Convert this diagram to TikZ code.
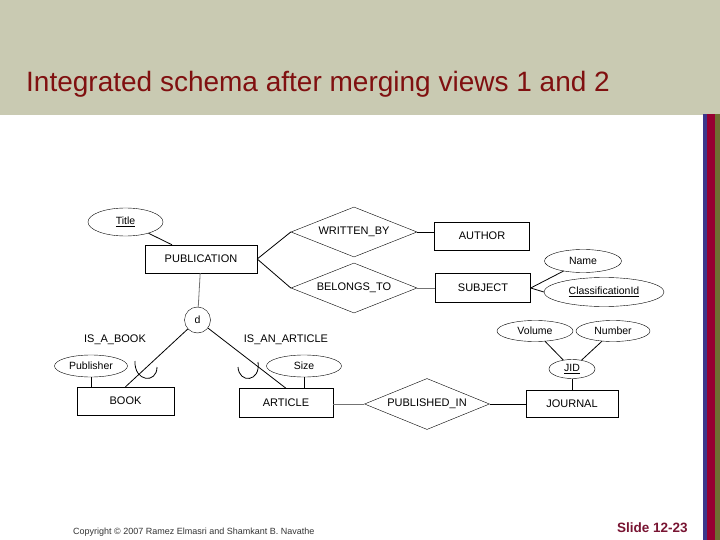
\documentclass[tikz,border=0pt]{standalone}
\usepackage{fontspec}
\setmainfont{Liberation Sans}
\usetikzlibrary{shapes.geometric}

\definecolor{headbg}{RGB}{201,202,178}
\definecolor{titlered}{RGB}{128,16,16}
\definecolor{slidered}{RGB}{120,20,50}
\definecolor{barblue}{RGB}{60,55,140}
\definecolor{barred}{RGB}{150,0,50}
\definecolor{barolive}{RGB}{110,110,50}

\tikzset{
  entity/.style={draw, rectangle, inner sep=0pt, minimum width=95pt, minimum height=28pt, font=\fontsize{11}{13}\selectfont},
  attr/.style={draw, ellipse, inner sep=0pt, minimum width=75pt, minimum height=22pt, font=\fontsize{10.5}{12}\selectfont},
  rel/.style={draw, diamond, aspect=2.5, inner sep=0pt, minimum width=126pt, minimum height=50pt, font=\fontsize{11}{13}\selectfont},
  link/.style={line width=0.8pt},
  dimlink/.style={line width=0.8pt, black!55}
}

\begin{document}
\begin{tikzpicture}[x=1pt,y=-1pt]
\useasboundingbox (0,0) rectangle (720,540);
% slide frame
\fill[headbg] (0,0) rectangle (720,115);
\fill[barblue] (703,114) rectangle (707,540);
\fill[barred] (707,114) rectangle (715,540);
\fill[barolive] (715,114) rectangle (720,540);
\node[anchor=base west, inner sep=0pt, text=titlered, font=\fontsize{28}{32}\selectfont] (heading) at (26,92) {Integrated schema after merging views 1 and 2};

% entities
\node[entity, minimum width=112pt] (pub) at (201,259) {PUBLICATION};
\node[entity] (author) at (482,236) {AUTHOR};
\node[entity, minimum height=29pt] (subject) at (483,288) {SUBJECT};
\node[entity, minimum width=97pt] (book) at (125.5,401) {BOOK};
\node[entity, minimum width=94pt, minimum height=29pt] (article) at (286,403) {ARTICLE};
\node[entity, minimum width=92pt, minimum height=27pt] (journal) at (572,404) {JOURNAL};

% relationships
\node[rel] (written) at (354,232) {WRITTEN\_BY};
\node[rel] (belongs) at (354,288) {BELONGS\_TO};
\node[rel, minimum width=125pt, minimum height=51pt] (published) at (427,404) {PUBLISHED\_IN};

% attributes
\node[attr, minimum height=28pt] (title) at (125.5,222) {\underline{Title}};
\node[attr, minimum width=77pt, minimum height=23pt] (name) at (583,261) {Name};
\node[attr, minimum width=120pt, minimum height=29pt] (classid) at (604,292) {\underline{ClassificationId}};
\node[attr, minimum width=73pt] (publisher) at (91,366) {Publisher};
\node[attr] (size) at (304,366) {Size};
\node[attr, minimum width=76pt, minimum height=21pt] (volume) at (535,331) {Volume};
\node[attr, minimum width=74pt, minimum height=21pt] (number) at (613,331) {Number};
\node[attr, minimum width=46pt, minimum height=19pt] (jid) at (572,369) {\underline{JID}};

% specialization
\node[draw, circle, inner sep=0pt, minimum size=26pt, font=\fontsize{10.5}{12}\selectfont] (d) at (197.5,320) {d};
\node[font=\fontsize{11}{13}\selectfont] (isbook) at (115,340) {IS\_A\_BOOK};
\node[font=\fontsize{11}{13}\selectfont] (isarticle) at (286,340) {IS\_AN\_ARTICLE};

% connectors
\draw[link] (title) -- (pub);
\draw[dimlink] (pub) -- (d);
\draw[link] (pub.east) -- (written.west);
\draw[link] (pub.east) -- (belongs.west);
\draw[link] (written.east) -- (author.west |- written.east);
\draw[dimlink] (belongs.east) -- (subject.west);
\draw[link] (subject.east) -- (name);
\draw[link] (subject.east) -- (classid.west);
\draw[link] (d) -- (book.north);
\draw[link] (d) -- (article.north);
\draw[link] (publisher) -- (publisher |- book.north);
\draw[link] (size) -- (size |- article.north);
\draw[dimlink] (article.east |- published.west) -- (published.west);
\draw[link] (published.east) -- (journal.west);
\draw[link] (volume) -- (jid);
\draw[link] (number) -- (jid);
\draw[link] (jid) -- (journal);

% subset marks
\draw[link] (135,361) .. controls (134,382) and (157,384) .. (157,367);
\draw[link] (238,367) .. controls (239,384) and (261,382) .. (258,362);

% footer
\node[anchor=base west, inner sep=0pt, text=black!80, font=\fontsize{9}{11}\selectfont] (copy) at (73,534) {Copyright © 2007 Ramez Elmasri and Shamkant B. Navathe};
\node[anchor=base west, inner sep=0pt, text=slidered, font=\bfseries\fontsize{13.5}{15}\selectfont] (slideno) at (617,532) {Slide 12-23};
\end{tikzpicture}
\end{document}
